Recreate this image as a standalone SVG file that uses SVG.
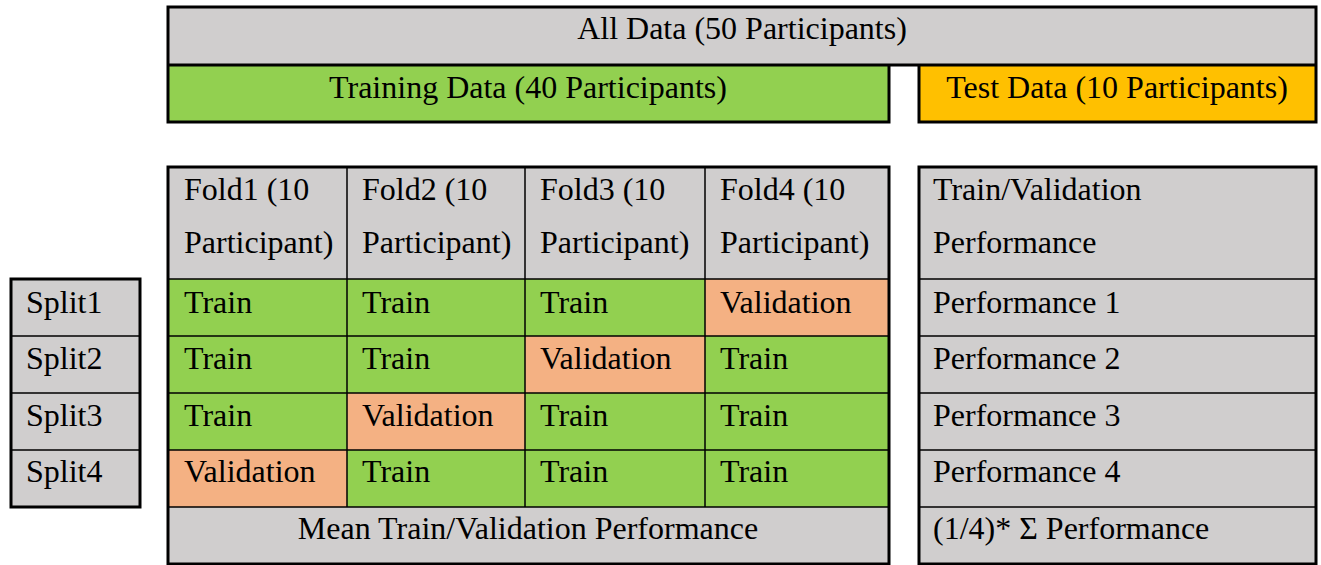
<svg xmlns="http://www.w3.org/2000/svg" width="1321" height="565" viewBox="0 0 1321 565">
<style>
text{font-family:"Liberation Serif","Times New Roman",serif;font-size:32px;fill:#000}
.g{fill:#D0CECE}.gr{fill:#92D050}.o{fill:#FFC000}.s{fill:#F4B183}
.thin{stroke:#000;stroke-width:1.5;fill:none}
.thick{stroke:#000;stroke-width:3;fill:none}
.c{text-anchor:middle}
</style>
<rect width="1321" height="565" fill="#fff"/>
<g id="all-data">
<rect class="g" x="168" y="7" width="1148" height="58"/>
<text class="c" x="742" y="39">All Data (50 Participants)</text>
</g>
<g id="training-data">
<rect class="gr" x="168" y="65" width="721" height="57"/>
<text class="c" x="528" y="98">Training Data (40 Participants)</text>
</g>
<g id="test-data">
<rect class="o" x="919" y="65" width="397" height="57"/>
<text class="c" x="1117" y="98">Test Data (10 Participants)</text>
</g>
<g id="top-borders">
<path class="thick" d="M168,7H1316V65H168Z M168,65V122H889V65 M919,65V122H1316V65"/>
</g>
<g id="folds">
<rect class="g" x="168" y="167" width="721" height="112"/>
<rect class="gr" x="168" y="279" width="721" height="228"/>
<rect class="s" x="705" y="279" width="184" height="57"/>
<rect class="s" x="525" y="336" width="180" height="57"/>
<rect class="s" x="347" y="393" width="178" height="57"/>
<rect class="s" x="168" y="450" width="179" height="57"/>
<rect class="g" x="168" y="507" width="721" height="57"/>
<path class="thin" d="M347,167V507 M525,167V507 M705,167V507 M168,279H889 M168,336H889 M168,393H889 M168,450H889 M168,507H889"/>
<rect class="thick" x="168" y="167" width="721" height="397"/>
<text x="184" y="200">Fold1 (10</text><text x="184" y="253">Participant)</text>
<text x="362" y="200">Fold2 (10</text><text x="362" y="253">Participant)</text>
<text x="540" y="200">Fold3 (10</text><text x="540" y="253">Participant)</text>
<text x="720" y="200">Fold4 (10</text><text x="720" y="253">Participant)</text>
<text x="184" y="313">Train</text><text x="362" y="313">Train</text><text x="540" y="313">Train</text><text x="720" y="313">Validation</text>
<text x="184" y="369">Train</text><text x="362" y="369">Train</text><text x="540" y="369">Validation</text><text x="720" y="369">Train</text>
<text x="184" y="426">Train</text><text x="362" y="426">Validation</text><text x="540" y="426">Train</text><text x="720" y="426">Train</text>
<text x="184" y="482">Validation</text><text x="362" y="482">Train</text><text x="540" y="482">Train</text><text x="720" y="482">Train</text>
<text class="c" x="528" y="539">Mean Train/Validation Performance</text>
</g>
<g id="splits">
<rect class="g" x="11" y="279" width="129" height="228"/>
<path class="thin" d="M11,336H140 M11,393H140 M11,450H140"/>
<rect class="thick" x="11" y="279" width="129" height="228"/>
<text x="26" y="313">Split1</text>
<text x="26" y="369">Split2</text>
<text x="26" y="426">Split3</text>
<text x="26" y="482">Split4</text>
</g>
<g id="performance">
<rect class="g" x="919" y="167" width="397" height="397"/>
<path class="thin" d="M919,279H1316 M919,336H1316 M919,393H1316 M919,450H1316 M919,507H1316"/>
<rect class="thick" x="919" y="167" width="397" height="397"/>
<text x="933" y="200">Train/Validation</text>
<text x="933" y="253">Performance</text>
<text x="933" y="313">Performance 1</text>
<text x="933" y="369">Performance 2</text>
<text x="933" y="426">Performance 3</text>
<text x="933" y="482">Performance 4</text>
<text x="933" y="539">(1/4)* Σ Performance</text>
</g>
</svg>
